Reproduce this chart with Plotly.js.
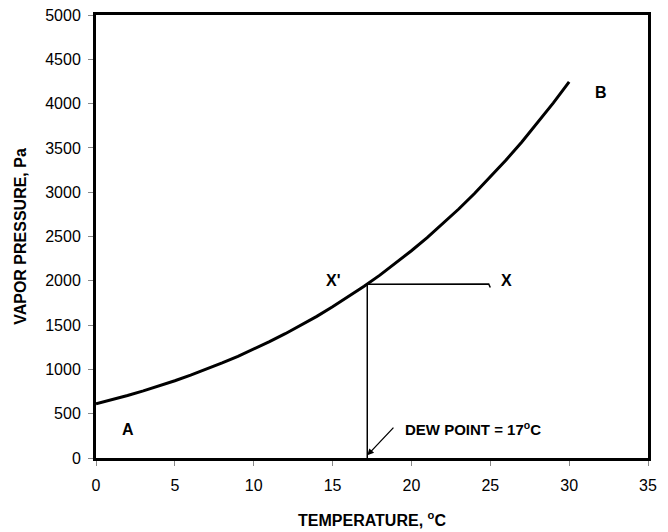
<!DOCTYPE html>
<html>
<head>
<meta charset="utf-8">
<script src="https://cdn.plot.ly/plotly-3.0.1.min.js"></script>
<style>html,body{margin:0;padding:0;background:#fff;}#chart{width:668px;height:532px;}</style>
</head>
<body>
<div id="chart"></div>
<script>
// Saturation vapor pressure curve (temperature °C, pressure Pa)
const temperature = [0, 1, 2, 3, 4, 5, 6, 7, 8, 9, 10, 11, 12, 13, 14, 15, 16, 17, 18, 19, 20, 21, 22, 23, 24, 25, 26, 27, 28, 29, 30];
const vaporPressure = [611, 657, 706, 758, 813, 872, 935, 1002, 1073, 1148, 1228, 1313, 1403, 1498, 1599, 1706, 1818, 1938, 2064, 2198, 2339, 2487, 2645, 2810, 2985, 3169, 3363, 3567, 3782, 4008, 4246];

// Point X (unsaturated state) and its dew point X'
const dewPointT = 17.2;
const statePressure = 1962;
const stateT = 25;
const hookPressure = 1925;

const xTicks = [0, 5, 10, 15, 20, 25, 30, 35];
const yTicks = [0, 500, 1000, 1500, 2000, 2500, 3000, 3500, 4000, 4500, 5000];

const FAM = 'Liberation Sans, Arial, sans-serif';
const titleFont = {family: FAM, size: 16, color: '#000', weight: 'bold'};
const labelFont = {family: FAM, size: 16, color: '#000', weight: 'bold'};

const traces = [
  {x: temperature, y: vaporPressure, mode: 'lines', line: {color: '#000', width: 3}, hoverinfo: 'skip'},
  {x: [dewPointT, stateT - 0.1, stateT], y: [statePressure, statePressure + 3, hookPressure],
   mode: 'lines', line: {color: '#000', width: 1.5}, hoverinfo: 'skip'},
  {x: [dewPointT, dewPointT], y: [statePressure, 0], mode: 'lines', line: {color: '#000', width: 1.5}, hoverinfo: 'skip'}
];

const layout = {
  width: 668, height: 532,
  margin: {l: 96, r: 20, t: 15, b: 74},
  paper_bgcolor: '#fff', plot_bgcolor: '#fff',
  showlegend: false,
  font: {family: FAM, size: 16, color: '#000'},
  xaxis: {
    range: [0, 35], tickvals: xTicks, ticktext: xTicks.map(String),
    showgrid: false, zeroline: false,
    showline: true, linecolor: '#000', linewidth: 3, mirror: true,
    ticks: 'outside', ticklen: 5, tickcolor: '#888', tickwidth: 1,
    ticklabelstandoff: 6,
    tickfont: {size: 16},
    title: {text: 'TEMPERATURE, <sup>o</sup>C', font: titleFont, standoff: 22}
  },
  yaxis: {
    range: [0, 5000], tickvals: yTicks, ticktext: yTicks.map(String),
    showgrid: false, zeroline: false,
    showline: true, linecolor: '#000', linewidth: 3, mirror: true,
    ticks: 'outside', ticklen: 5, tickcolor: '#888', tickwidth: 1,
    ticklabelstandoff: 4,
    tickfont: {size: 16},
    title: {text: 'VAPOR PRESSURE, Pa', font: titleFont, standoff: 15}
  },
  annotations: [
    {x: 15.0, y: 2000, text: "X'", showarrow: false, font: labelFont},
    {x: 26.0, y: 2000, text: 'X', showarrow: false, font: labelFont},
    {x: 32.0, y: 4120, text: 'B', showarrow: false, font: labelFont},
    {x: 2.0, y: 320, text: 'A', showarrow: false, font: labelFont},
    {x: 23.9, y: 330, text: 'DEW POINT = 17<sup>o</sup>C', showarrow: false, font: {family: FAM, size: 15, color: '#000', weight: 'bold'}},
    {x: dewPointT, y: 30, ax: 18.95, ay: 360, axref: 'x', ayref: 'y', xref: 'x', yref: 'y',
     text: '', showarrow: true, arrowhead: 2, arrowsize: 1, arrowwidth: 1.3, arrowcolor: '#000'}
  ]
};

Plotly.newPlot('chart', traces, layout, {displayModeBar: false, staticPlot: true});
</script>
</body>
</html>
